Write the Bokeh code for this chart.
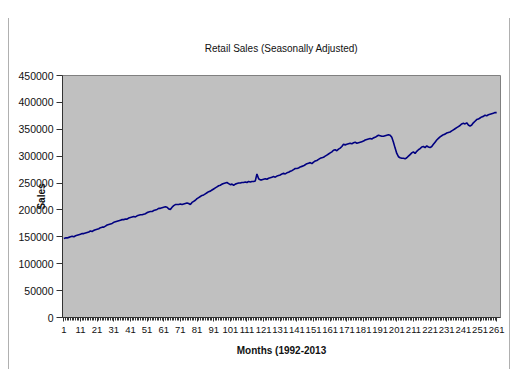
from bokeh.plotting import figure
from bokeh.models import FixedTicker, Range1d, ColumnDataSource, Title
from bokeh.embed import file_html
from bokeh.resources import INLINE

title_text = "Retail Sales (Seasonally Adjusted)"
x_label = "Months (1992-2013"
y_label = "Sales"

# Monthly retail sales (thousands), Jan 1992 .. Sep 2013
sales_k = [
    147, 148, 148, 149, 150, 151, 150, 152, 153, 154, 155, 156,   # 1992
    156, 157, 158, 159, 161, 160, 162, 163, 164, 165, 167, 168,   # 1993
    168, 170, 172, 173, 174, 175, 177, 178, 179, 180, 181, 182,   # 1994
    182, 183, 183, 185, 186, 187, 188, 187, 189, 190, 191, 191,   # 1995
    192, 193, 195, 196, 197, 197, 199, 200, 201, 203, 203, 204,   # 1996
    205, 206, 205, 202, 201, 205, 208, 210, 210, 210, 211, 210,   # 1997
    211, 212, 213, 212, 210, 214, 216, 218, 221, 223, 225, 227,   # 1998
    228, 230, 232, 234, 235, 237, 239, 241, 243, 245, 246, 248,   # 1999
    249, 250, 251, 249, 247, 248, 246, 248, 249, 250, 250, 251,   # 2000
    251, 252, 251, 253, 252, 253, 253, 254, 267, 258, 256, 256,   # 2001
    257, 258, 257, 259, 260, 261, 262, 261, 263, 264, 265, 267,   # 2002
    268, 267, 269, 270, 272, 273, 275, 277, 277, 278, 280, 281,   # 2003
    282, 284, 286, 287, 288, 286, 289, 291, 292, 294, 296, 297,   # 2004
    298, 300, 302, 304, 306, 308, 311, 312, 310, 313, 315, 318,   # 2005
    322, 321, 322, 323, 324, 323, 325, 326, 324, 325, 326, 327,   # 2006
    328, 330, 331, 332, 333, 332, 334, 335, 337, 339, 338, 337,   # 2007
    337, 338, 339, 340, 339, 335, 326, 315, 305, 299, 297, 296,   # 2008
    296, 295, 297, 300, 303, 306, 308, 305, 309, 312, 314, 317,   # 2009
    318, 316, 319, 317, 316, 318, 322, 326, 330, 333, 336, 338,   # 2010
    340, 341, 343, 344, 345, 347, 349, 351, 353, 355, 357, 360,   # 2011
    361, 360, 362, 358, 356, 358, 362, 365, 368, 369, 371, 373,   # 2012
    374, 376, 375, 377, 378, 379, 380, 381, 381,                  # 2013
]
sales = [v * 1000 for v in sales_k]
months = list(range(1, len(sales) + 1))
x_ticks = list(range(1, 262, 10))
y_ticks = [0, 50000, 100000, 150000, 200000, 250000, 300000, 350000, 400000, 450000]

FONT = "Liberation Sans"

p = figure(width=502, height=351, output_backend="svg", toolbar_location=None,
           x_range=Range1d(0.2, 263.3), y_range=Range1d(0, 450000), title=None)
p.margin = (18, 0, 0, 8)
p.styles = {"border-left": "1px solid #b0b0b0", "border-right": "1px solid #b0b0b0"}
p.min_border_left = 53
p.min_border_right = 11
p.min_border_top = 50
p.min_border_bottom = 52
p.background_fill_color = "#c0c0c0"
p.border_fill_color = "white"
p.outline_line_color = "#808080"
p.outline_line_width = 1
p.xgrid.visible = False
p.ygrid.visible = False

p.add_layout(Title(text=title_text, text_font=FONT, text_font_size="10px",
                   text_font_style="normal", text_color="#111111",
                   align="center", standoff=44), "above")

src = ColumnDataSource(dict(month=months, sales=sales))
p.line("month", "sales", source=src, line_color="#000080", line_width=1.6)

# x axis
p.xaxis.ticker = FixedTicker(ticks=x_ticks, minor_ticks=months)
p.xaxis.major_label_text_font = FONT
p.xaxis.major_label_text_font_size = "9.5px"
p.xaxis.major_label_text_color = "#111111"
p.xaxis.major_tick_out = 4
p.xaxis.major_tick_in = 0
p.xaxis.minor_tick_out = 3
p.xaxis.minor_tick_in = 0
p.xaxis.axis_line_color = "#333333"
p.xaxis.major_tick_line_color = "#333333"
p.xaxis.minor_tick_line_color = "#333333"
p.xaxis.major_label_standoff = 5
p.xaxis.axis_label = x_label
p.xaxis.axis_label_text_font = FONT
p.xaxis.axis_label_text_font_size = "10px"
p.xaxis.axis_label_text_font_style = "bold"
p.xaxis.axis_label_text_color = "#111111"
p.xaxis.axis_label_standoff = 9

# y axis
p.yaxis.ticker = FixedTicker(ticks=y_ticks)
p.yaxis.formatter.use_scientific = False
p.yaxis.major_label_text_font = FONT
p.yaxis.major_label_text_font_size = "10.5px"
p.yaxis.major_label_text_color = "#111111"
p.yaxis.major_tick_out = 6
p.yaxis.major_tick_in = 0
p.yaxis.minor_tick_line_color = None
p.yaxis.axis_line_color = "#333333"
p.yaxis.major_tick_line_color = "#333333"
p.yaxis.major_label_standoff = 3
p.yaxis.axis_label = y_label
p.yaxis.axis_label_text_font = FONT
p.yaxis.axis_label_text_font_size = "10px"
p.yaxis.axis_label_text_font_style = "bold"
p.yaxis.axis_label_text_color = "#111111"
p.yaxis.axis_label_standoff = -32

open("out.html", "w").write(file_html(p, INLINE))
